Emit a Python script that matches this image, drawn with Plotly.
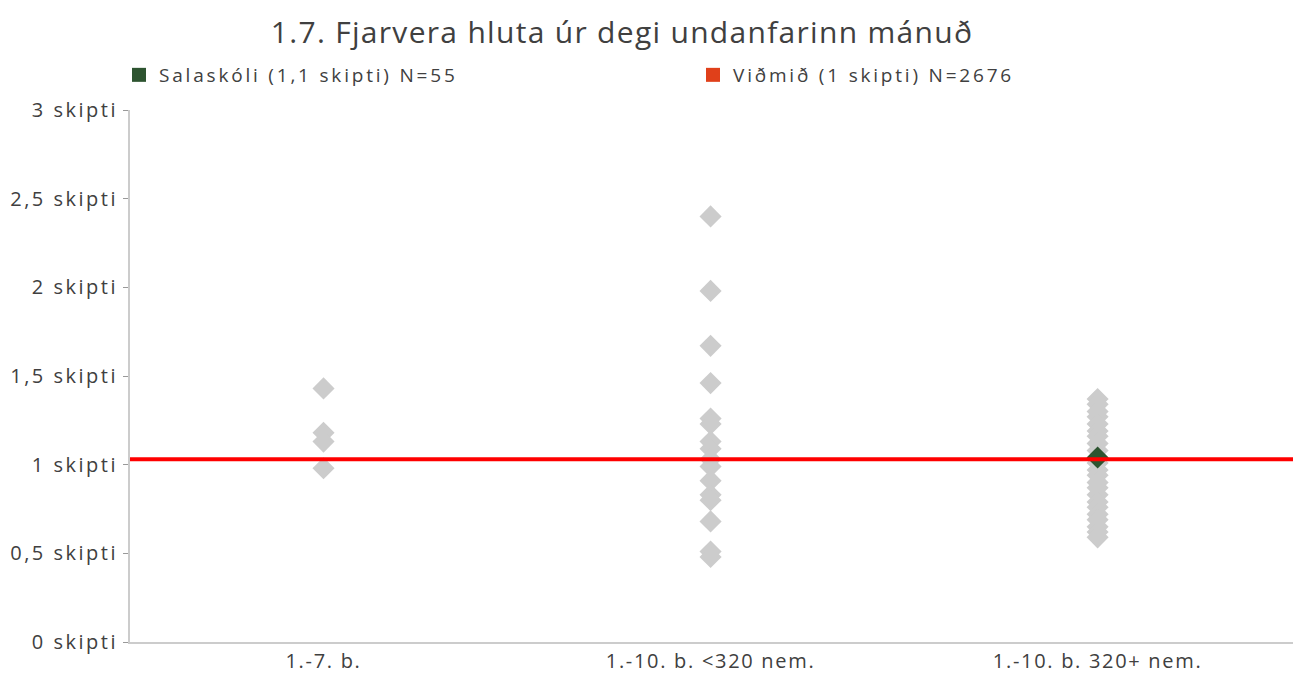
import plotly.graph_objects as go

categories = ["1.-7. b.", "1.-10. b. <320 nem.", "1.-10. b. 320+ nem."]

group1_values = [1.43, 1.18, 1.13, 0.98]
group2_values = [2.40, 1.98, 1.67, 1.46, 1.26, 1.23, 1.13, 1.09, 1.03, 0.99,
                 0.91, 0.83, 0.80, 0.68, 0.51, 0.48]
group3_values = [1.37, 1.34, 1.30, 1.27, 1.23, 1.19, 1.16, 1.12, 1.08, 1.01,
                 0.97, 0.94, 0.90, 0.87, 0.83, 0.79, 0.76, 0.72, 0.69, 0.65,
                 0.62, 0.59]

school_category = "1.-10. b. 320+ nem."
school_value = 1.04
benchmark_value = 1.03

legend_school = "Salaskóli (1,1 skipti) N=55"
legend_benchmark = "Viðmið (1 skipti) N=2676"

ytick_vals = [0, 0.5, 1, 1.5, 2, 2.5, 3]
ytick_text = ["0 skipti", "0,5 skipti", "1 skipti", "1,5 skipti", "2 skipti", "2,5 skipti", "3 skipti"]

FONT = "'Open Sans', Lato, sans-serif"
TXT = "#404040"

W, H = 1293, 665
ML, MR, MT, MB = 122, 6, 102, 31
PW, PH = W - ML - MR, H - MT - MB

fig = go.Figure()

groups = [group1_values, group2_values, group3_values]
for cat, vals in zip(categories, groups):
    fig.add_trace(go.Scatter(
        x=[cat] * len(vals), y=vals, mode="markers",
        marker=dict(symbol="diamond", size=17, color="#cccccc", line=dict(width=0)),
        showlegend=False, hoverinfo="y",
    ))

fig.add_trace(go.Scatter(
    x=[school_category], y=[school_value], mode="markers",
    marker=dict(symbol="diamond", size=17, color="#2d5430", line=dict(width=0)),
    showlegend=False,
))

# benchmark line across the whole plot
fig.add_trace(go.Scatter(
    x=[0, 1], y=[benchmark_value, benchmark_value], mode="lines", xaxis="x2",
    line=dict(color="#ff0000", width=4), showlegend=False, hoverinfo="skip",
))

# legend entries
fig.add_trace(go.Scatter(
    x=[None], y=[None], mode="markers", name=legend_school,
    marker=dict(symbol="square", size=14, color="#2d5430"),
))
fig.add_trace(go.Scatter(
    x=[None], y=[None], mode="markers", name=legend_benchmark,
    marker=dict(symbol="square", size=14, color="#e0401a"),
))

fig.update_layout(
    width=W, height=H,
    paper_bgcolor="white", plot_bgcolor="white",
    margin=dict(l=ML, r=MR, t=MT, b=MB, autoexpand=False),
    font=dict(family=FONT, color=TXT, size=19),
    title=dict(text="1.7. Fjarvera hluta úr degi undanfarinn mánuð",
               x=614 / W, xanchor="center", y=1 - 24 / H, yanchor="middle",
               font=dict(size=30, color=TXT, family=FONT)),
    legend=dict(orientation="h", x=-11 / PW, xanchor="left", y=1 + 35 / PH, yanchor="middle",
                entrywidth=529, entrywidthmode="pixels",
                font=dict(size=19, color=TXT), itemclick=False,
                bgcolor="rgba(0,0,0,0)"),
    xaxis=dict(type="category", categoryorder="array", categoryarray=categories,
               range=[-0.5, 2.51], showline=True, linecolor="#cccccc", linewidth=2,
               showgrid=False, zeroline=False, ticks="", tickfont=dict(size=20, color=TXT),
               automargin=False, fixedrange=True),
    xaxis2=dict(overlaying="x", range=[0, 1], visible=False, fixedrange=True),
    yaxis=dict(range=[0, 3], tickvals=ytick_vals, ticktext=ytick_text,
               showline=True, linecolor="#cccccc", linewidth=2,
               showgrid=False, zeroline=False, ticks="outside", ticklen=5,
               tickcolor="#999999", tickfont=dict(size=20, color=TXT),
               ticklabelstandoff=1,
               automargin=False, fixedrange=True),
)

# wide letter tracking as in the reference
post = """
var gd = document.getElementById('{plot_id}');
function track() {
  gd.querySelectorAll('text.gtitle').forEach(function(t){ t.style.letterSpacing = '1.3px'; });
  gd.querySelectorAll('text.legendtext').forEach(function(t){ t.style.letterSpacing = '2.8px'; });
  gd.querySelectorAll('g.ytick text').forEach(function(t){ t.style.letterSpacing = '2.5px'; });
  gd.querySelectorAll('g.xtick text').forEach(function(t){ t.style.letterSpacing = '1.7px'; });
}
track();
gd.on('plotly_afterplot', track);
"""

fig.write_html("out.html", post_script=post)
